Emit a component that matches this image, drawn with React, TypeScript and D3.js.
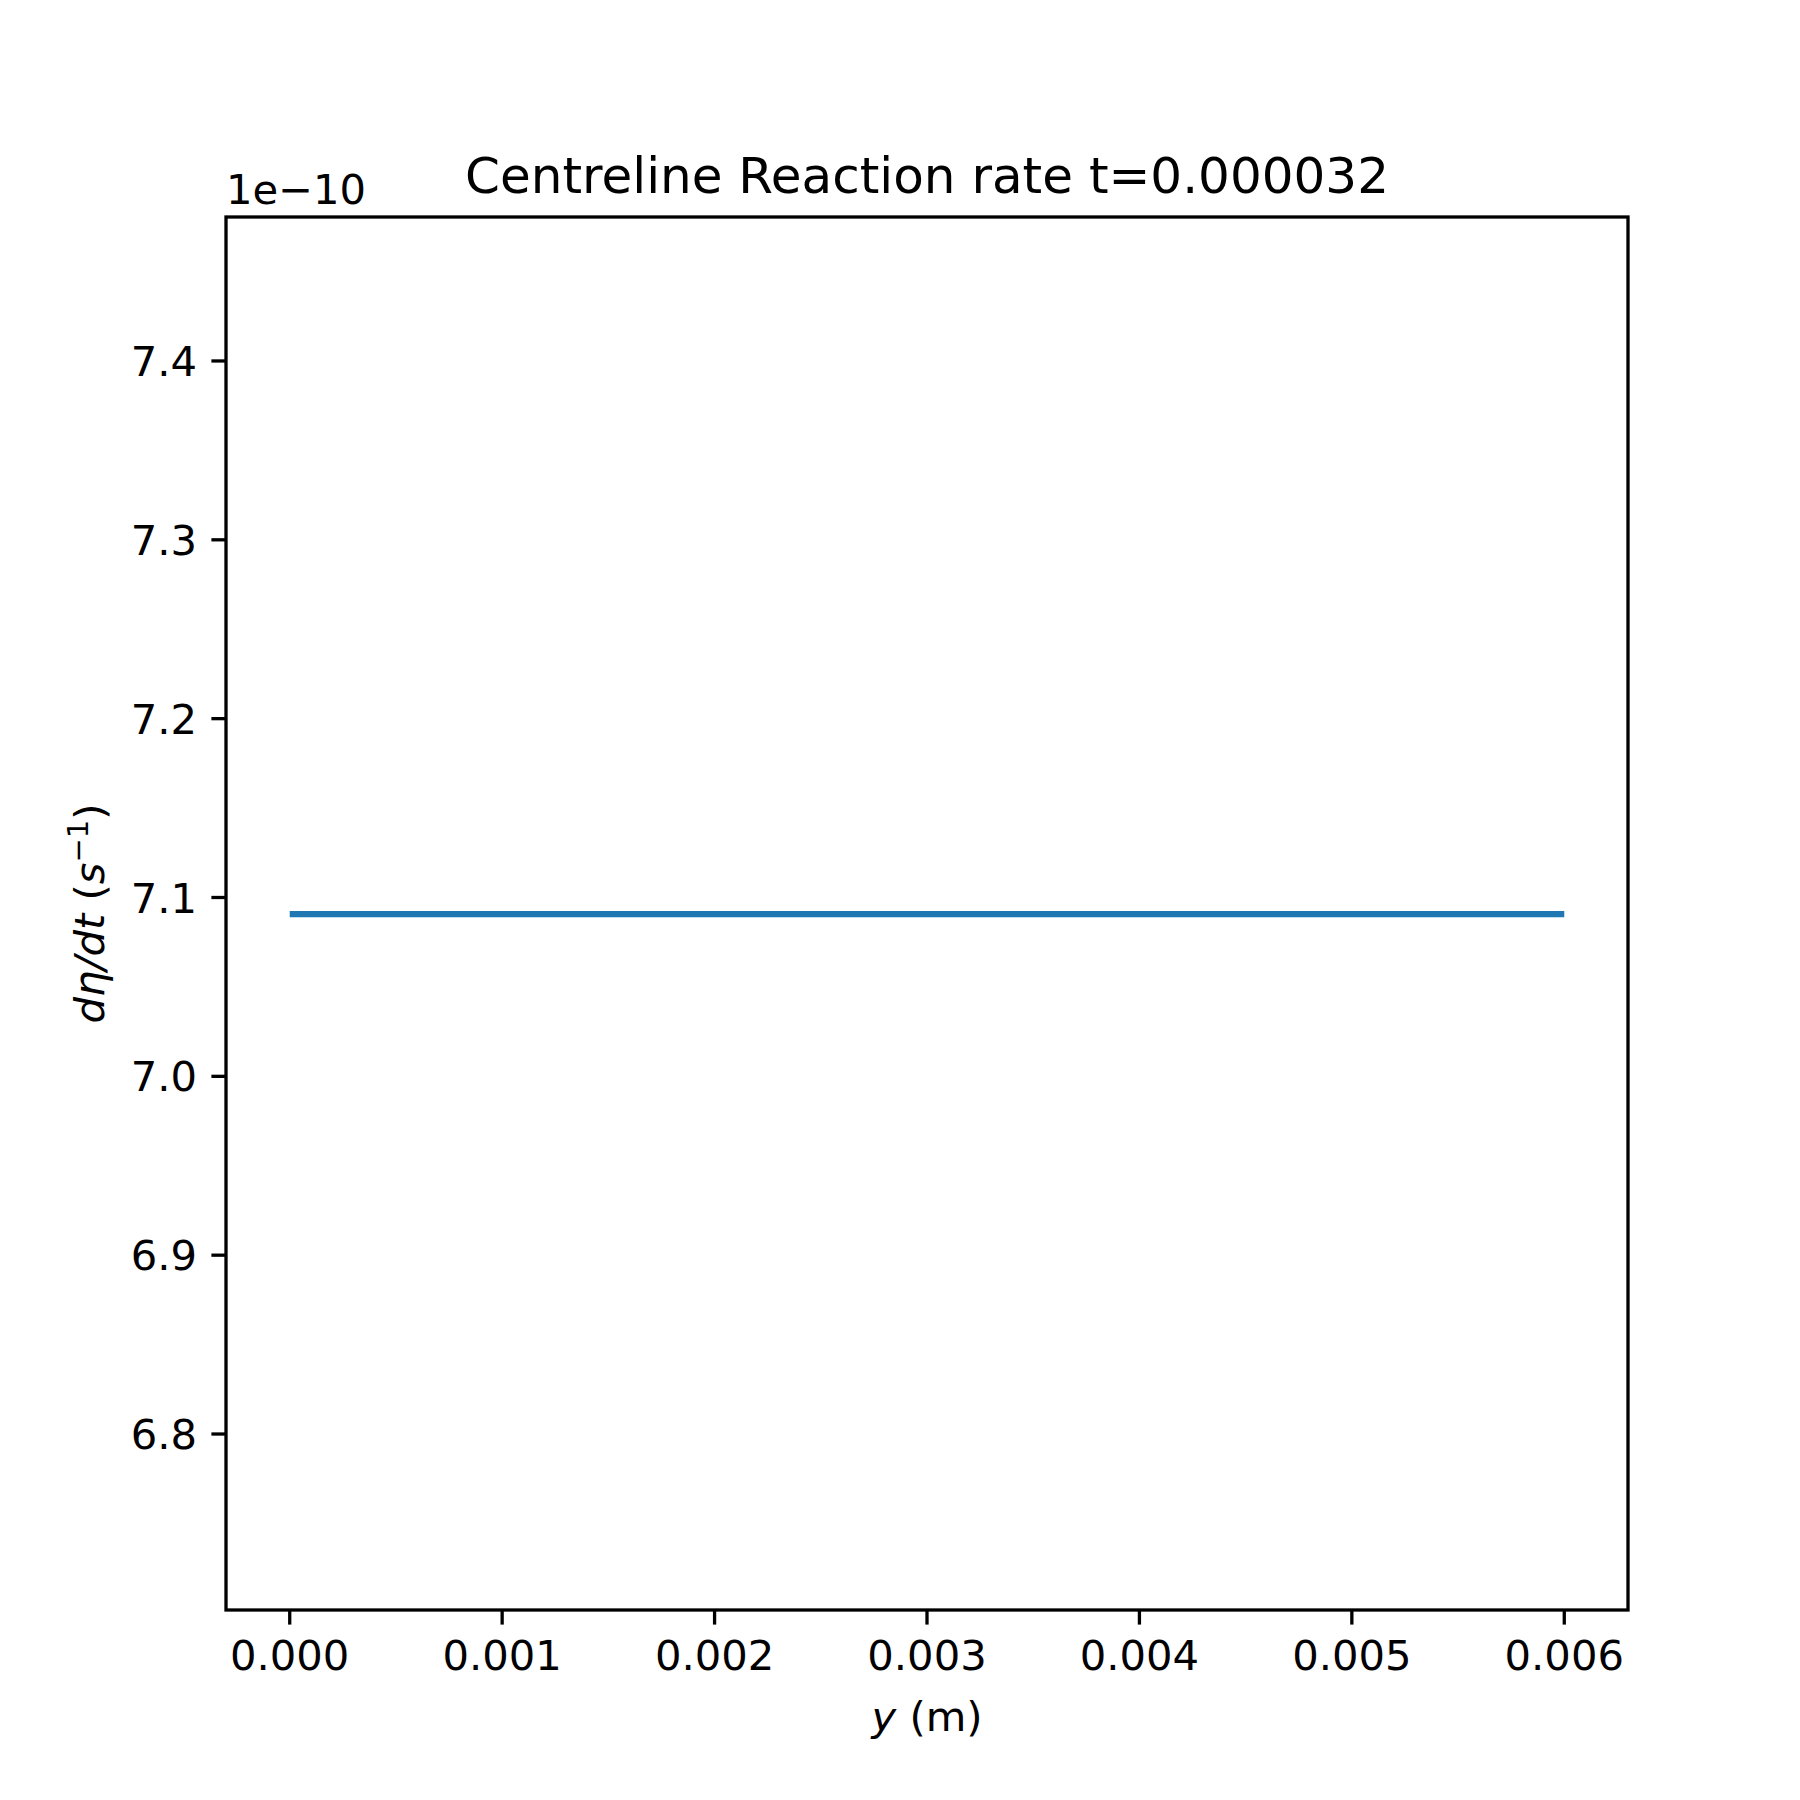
import React from "react";
import * as d3 from "d3";

const yPos = [0, 0.001, 0.002, 0.003, 0.004, 0.005, 0.006];
const rate = [7.0907, 7.0907, 7.0907, 7.0907, 7.0907, 7.0907, 7.0907];
const xTicks = [0, 0.001, 0.002, 0.003, 0.004, 0.005, 0.006];
const yTicks = [6.8, 6.9, 7.0, 7.1, 7.2, 7.3, 7.4];

export default function App() {
  const W = 1800, H = 1800;
  const L = 226, R = 1628, T = 217, B = 1610;
  const x = d3.scaleLinear().domain([-0.0003, 0.0063]).range([L, R]);
  const y = d3.scaleLinear().domain([6.7016, 7.4805]).range([B, T]);
  const line = d3.line<number>().x((_, i) => x(yPos[i])).y((d) => y(d));
  const font = "DejaVu Sans";
  return (
    <svg width={W} height={H} style={{ position: "absolute", left: 0, top: 0, background: "#fff" }} fontFamily={font}>
      <path d={line(rate) || ""} fill="none" stroke="#1f77b4" strokeWidth={6.25} />
      <rect x={L} y={T} width={R - L} height={B - T} fill="none" stroke="#000" strokeWidth={3.3} />
      {xTicks.map((t) => (
        <g key={t}>
          <line x1={x(t)} x2={x(t)} y1={B} y2={B + 14.6} stroke="#000" strokeWidth={3.3} />
          <text x={x(t)} y={B + 60} fontSize={41.7} textAnchor="middle">{t.toFixed(3)}</text>
        </g>
      ))}
      {yTicks.map((t) => (
        <g key={t}>
          <line x1={L - 14.6} x2={L} y1={y(t)} y2={y(t)} stroke="#000" strokeWidth={3.3} />
          <text x={L - 29} y={y(t)} dy="0.36em" fontSize={41.7} textAnchor="end">{t.toFixed(1)}</text>
        </g>
      ))}
      <text x={L} y={T - 13} fontSize={41.7}>1e−10</text>
      <text x={(L + R) / 2} y={T - 24} fontSize={50} textAnchor="middle">Centreline Reaction rate t=0.000032</text>
      <text x={(L + R) / 2} y={1731} fontSize={41.7} textAnchor="middle">
        <tspan fontStyle="italic">y</tspan> (m)
      </text>
      <text transform={`translate(104,${(T + B) / 2}) rotate(-90)`} fontSize={41.7} textAnchor="middle">
        <tspan fontStyle="italic">dη/dt</tspan> (<tspan fontStyle="italic">s</tspan>
        <tspan fontSize={29} dy={-16}>−1</tspan><tspan dy={16}>)</tspan>
      </text>
    </svg>
  );
}
